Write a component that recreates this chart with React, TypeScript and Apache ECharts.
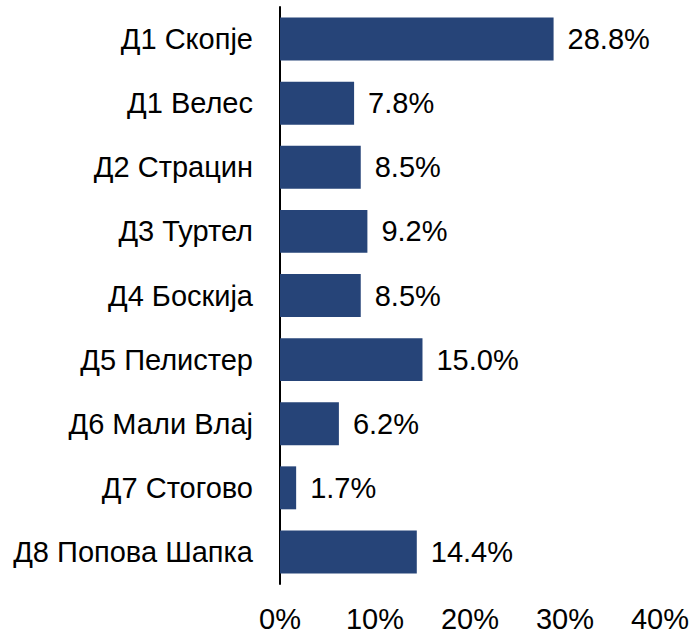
import React, { useEffect, useRef } from "react";
import * as echarts from "echarts";

const categories = [
  "Д1 Скопје",
  "Д1 Велес",
  "Д2 Страцин",
  "Д3 Туртел",
  "Д4 Боскија",
  "Д5 Пелистер",
  "Д6 Мали Влај",
  "Д7 Стогово",
  "Д8 Попова Шапка",
];
const values = [28.8, 7.8, 8.5, 9.2, 8.5, 15.0, 6.2, 1.7, 14.4];

const FONT = "'Liberation Sans', Arial, sans-serif";
const FS = 29;

export default function App() {
  const ref = useRef<HTMLDivElement>(null);
  useEffect(() => {
    if (!ref.current) return;
    const chart = echarts.init(ref.current, undefined, { renderer: "svg" });
    chart.setOption({
      animation: false,
      textStyle: { fontFamily: FONT },
      grid: { left: 280, right: 32, top: 7, bottom: 46, containLabel: false },
      xAxis: {
        type: "value",
        min: 0,
        max: 40,
        interval: 10,
        axisLine: { show: false },
        axisTick: { show: false },
        splitLine: { show: false },
        axisLabel: {
          formatter: "{value}%",
          color: "#000",
          fontSize: FS,
          fontFamily: FONT,
          margin: 20,
        },
      },
      yAxis: {
        type: "category",
        data: categories,
        inverse: true,
        axisLine: { show: true, lineStyle: { color: "#000", width: 2 } },
        axisTick: { show: false },
        axisLabel: {
          color: "#000",
          fontSize: FS,
          fontFamily: FONT,
          margin: 27,
        },
      },
      series: [
        {
          type: "bar",
          data: values,
          barCategoryGap: "33%",
          itemStyle: { color: "#264478" },
          label: {
            show: true,
            position: "right",
            distance: 14,
            formatter: (p: any) => p.value.toFixed(1) + "%",
            color: "#000",
            fontSize: FS,
            fontFamily: FONT,
          },
        },
      ],
    });
    return () => chart.dispose();
  }, []);
  return (
    <div
      ref={ref}
      style={{ width: 692, height: 633, position: "absolute", left: 0, top: 0 }}
    />
  );
}
